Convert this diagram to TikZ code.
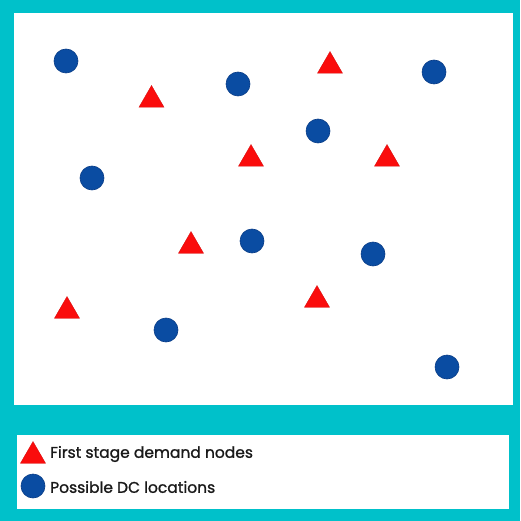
\documentclass[tikz,border=0pt]{standalone}
\usepackage{fontspec}
\setmainfont{Poppins}
\newfontfamily\legfont{Poppins}[FakeBold=1.2]
\usetikzlibrary{shapes.geometric}
\definecolor{teal1}{RGB}{0,193,202}
\definecolor{dcblue}{RGB}{10,76,162}
\definecolor{dcblueline}{RGB}{8,60,135}
\definecolor{dred}{RGB}{250,12,12}
\tikzset{
  dc/.style={circle, fill=dcblue, draw=dcblueline, line width=0.6pt, minimum size=24pt, inner sep=0pt},
  dem/.style={regular polygon, regular polygon sides=3, fill=dred, draw=dred!85!black, line width=0.3pt, minimum size=29pt, inner sep=0pt},
  legtext/.style={anchor=west, inner sep=0pt, font=\legfont\fontsize{15.5}{17}\selectfont, text=black!90}
}
\begin{document}
\begin{tikzpicture}[x=1pt,y=-1pt]
\useasboundingbox (0,0) rectangle (520,521);
\fill[teal1] (0,0) rectangle (520,521);
\fill[white] (14,13) rectangle (513,405);
\fill[white] (17,435) rectangle (509,509);
% DC locations
\node[dc] (c1) at (66,61) {};
\node[dc] (c2) at (238,84) {};
\node[dc] (c3) at (434,72) {};
\node[dc] (c4) at (318,131) {};
\node[dc] (c5) at (92,178) {};
\node[dc] (c6) at (252,241) {};
\node[dc] (c7) at (373,254) {};
\node[dc] (c8) at (166,330) {};
\node[dc] (c9) at (447,367) {};
% demand nodes
\node[dem] (t1) at (151.5,100) {};
\node[dem] (t2) at (330,66) {};
\node[dem] (t3) at (251,159) {};
\node[dem] (t4) at (387,159) {};
\node[dem] (t5) at (191,246) {};
\node[dem] (t6) at (317,300) {};
\node[dem] (t7) at (67,311) {};
% legend
\node[dem] (lt) at (33,456) {};
\node[dc] (lc) at (33,486) {};
\node[legtext] (l1) at (50,454) {First stage demand nodes};
\node[legtext] (l2) at (50,487) {Possible DC locations};
\end{tikzpicture}
\end{document}
